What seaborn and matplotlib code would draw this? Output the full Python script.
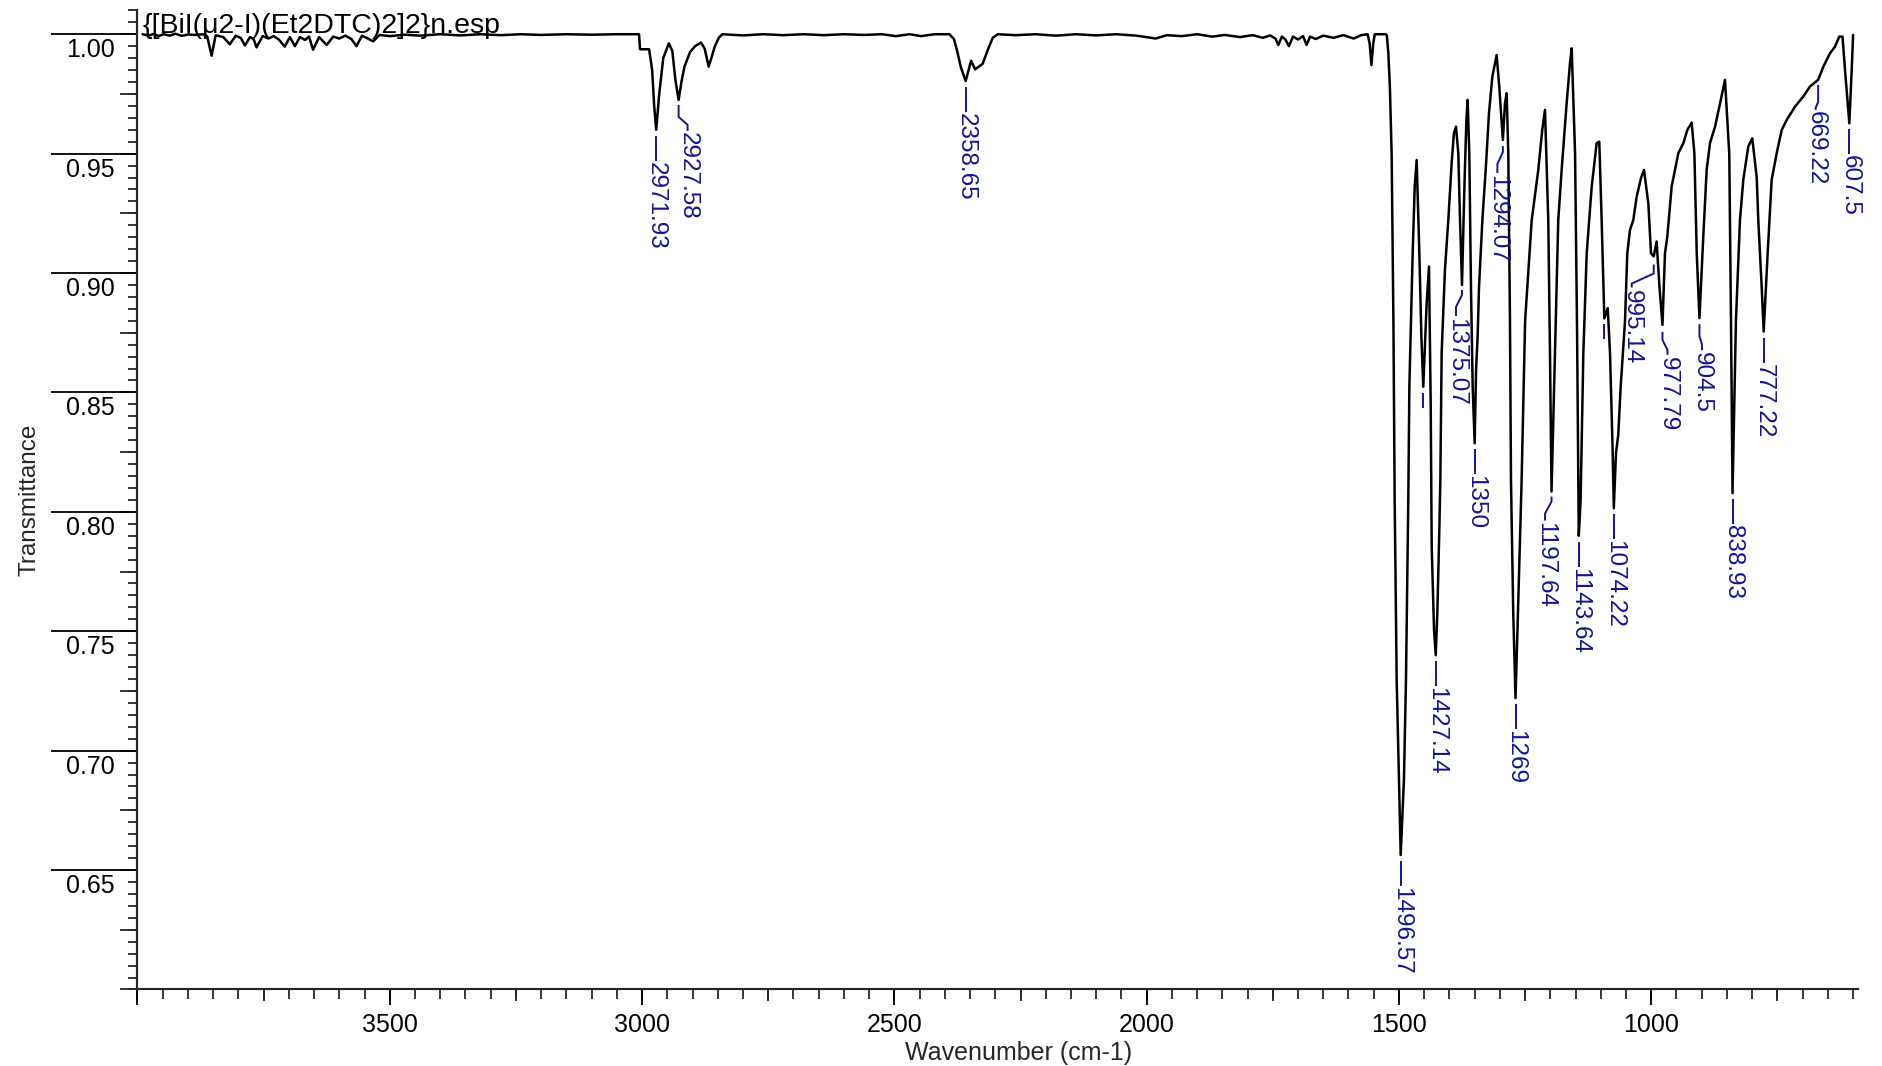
import numpy as np
import matplotlib
matplotlib.use("Agg")
import matplotlib.pyplot as plt
import seaborn as sns
from matplotlib.ticker import MultipleLocator, NullFormatter
from matplotlib.transforms import ScaledTranslation

# ---------------- spectrum trace (wavenumber in cm-1, transmittance) ----------------
wavenumber = [
    3990, 3978, 3968, 3958, 3948, 3936, 3925, 3912, 3900, 3885, 3870, 3862, 3853, 3845,
    3830, 3817, 3805, 3795, 3787, 3777, 3770, 3764, 3752, 3740, 3730, 3720, 3708, 3698,
    3688, 3678, 3668, 3660, 3652, 3640, 3625, 3612, 3600, 3588, 3576, 3566, 3555, 3545,
    3533, 3520, 3500, 3470, 3440, 3400, 3360, 3320, 3280, 3240, 3200, 3150, 3100, 3050,
    3006, 3004, 2986, 2980, 2976, 2971.93, 2966, 2958, 2947, 2940, 2934, 2927.58, 2922,
    2916, 2905, 2895, 2883, 2876, 2868, 2862, 2856, 2848, 2841, 2800, 2760, 2720, 2680,
    2640, 2600, 2560, 2525, 2497, 2470, 2447, 2420, 2391, 2382, 2376, 2368, 2358.65,
    2353, 2348, 2340, 2325, 2315, 2305, 2295, 2260, 2220, 2180, 2140, 2100, 2060, 2020,
    1982, 1960, 1930, 1900, 1870, 1845, 1815, 1790, 1770, 1755, 1745, 1739, 1732, 1725,
    1718, 1710, 1700, 1690, 1683, 1676, 1665, 1650, 1630, 1610, 1590, 1575, 1562, 1558,
    1554.6, 1551, 1548, 1526, 1524, 1521, 1518, 1514.5, 1511, 1508.5, 1504.5, 1499.9,
    1496.57, 1490.1, 1486.1, 1481.5, 1479.4, 1472.8, 1468.8, 1464.9, 1459.6, 1455.6,
    1451.8, 1445.1, 1440.5, 1437.1, 1435.1, 1430.5, 1427.14, 1424.0, 1420.0, 1418.0,
    1415.4, 1408.9, 1402.2, 1395.6, 1391.1, 1387.0, 1382.4, 1379.0, 1375.07, 1370.3,
    1366.4, 1363.9, 1360.6, 1357.3, 1353.9, 1350, 1347.2, 1344.1, 1341.3, 1334.7,
    1328.1, 1321.6, 1315.0, 1306.4, 1301.2, 1294.07, 1289.9, 1286.6, 1283.3, 1280.0,
    1278.0, 1273.5, 1269, 1264.2, 1256.9, 1250, 1237, 1224, 1216, 1210.6, 1204.1,
    1200.7, 1197.64, 1190.8, 1184.3, 1177.6, 1167.7, 1161, 1157.7, 1151.0, 1147.0,
    1143.64, 1140.0, 1134.6, 1127.9, 1118.0, 1108.2, 1103.0, 1098.3, 1093.0, 1086.3,
    1081.7, 1076.4, 1074.22, 1069.9, 1065.4, 1060.6, 1052.0, 1047.5, 1042.2, 1035.6,
    1028.9, 1020, 1014.4, 1005.8, 1000.5, 995.14, 989.4, 984, 977.79, 972.8, 968.2,
    959.6, 946.3, 936.4, 928.5, 919.9, 914.5, 909.9, 904.5, 896.9, 890.2, 883.6, 873.6,
    863.6, 853.9, 845.4, 842.0, 838.93, 832.2, 824.2, 817.6, 807.7, 799.8, 791, 787.9,
    781.2, 777.22, 769.3, 761.4, 751.4, 741.5, 731.6, 715.1, 698.7, 685.5, 669.22,
    659.0, 645.8, 635.9, 627.4, 621, 616, 607.5, 602.8, 600,
]
transmittance = [
    1.0000, 0.9994, 1.0001, 0.9992, 1.0000, 0.9994, 1.0002, 0.9993, 0.9999, 0.9997, 1.0000, 0.9992, 0.9910, 0.9996,
    0.9988, 0.9958, 0.9994, 0.9984, 0.9953, 0.9988, 0.9980, 0.9945, 0.9992, 0.9982, 0.9992, 0.9978, 0.9948, 0.9988,
    0.9950, 0.9988, 0.9976, 0.9990, 0.9935, 0.9988, 0.9955, 0.9990, 0.9982, 0.9994, 0.9980, 0.9950, 0.9994, 0.9984,
    0.9970, 0.9997, 0.9992, 0.9998, 0.9994, 1.0000, 0.9995, 1.0000, 0.9996, 1.0000, 0.9997, 1.0000, 0.9998, 1.0000,
    1.0000, 0.9937, 0.9937, 0.9850, 0.9700, 0.9600, 0.9750, 0.9900, 0.9962, 0.9930, 0.9810, 0.9725, 0.9800,
    0.9864, 0.9925, 0.9950, 0.9965, 0.9940, 0.9864, 0.9905, 0.9948, 0.9985, 1.0000, 0.9995, 1.0000, 0.9996, 1.0000,
    0.9996, 1.0000, 0.9997, 1.0000, 0.9992, 1.0000, 0.9992, 1.0000, 1.0000, 0.9980, 0.9934, 0.9860, 0.9804,
    0.9850, 0.9889, 0.9853, 0.9876, 0.9934, 0.9985, 1.0000, 0.9996, 1.0000, 0.9994, 1.0000, 0.9995, 1.0000, 0.9994,
    0.9982, 0.9996, 0.9992, 1.0000, 0.9990, 0.9997, 0.9988, 0.9996, 0.9985, 0.9995, 0.9982, 0.9955, 0.9990, 0.9978,
    0.9950, 0.9990, 0.9978, 0.9992, 0.9955, 0.9990, 0.9980, 0.9994, 0.9985, 0.9996, 0.9982, 0.9996, 1.0000, 0.9960,
    0.9871, 0.9960, 1.0000, 1.0000, 0.9995, 0.9920, 0.9780, 0.9500, 0.8800, 0.8050, 0.7296, 0.6880,
    0.6563, 0.6880, 0.7296, 0.8050, 0.8524, 0.9083, 0.9362, 0.9473, 0.9083, 0.8734,
    0.8524, 0.8874, 0.9027, 0.8450, 0.7854, 0.7506, 0.7400, 0.7575, 0.7924, 0.8133,
    0.8665, 0.9013, 0.9222, 0.9460, 0.9585, 0.9613, 0.9502, 0.9222, 0.8950, 0.9362,
    0.9641, 0.9725, 0.9500, 0.8943, 0.8524, 0.8287, 0.8594, 0.8734, 0.8943, 0.9222,
    0.9432, 0.9669, 0.9822, 0.9913, 0.9780, 0.9557, 0.9711, 0.9753, 0.9500, 0.8800,
    0.8133, 0.7575, 0.7220, 0.7575, 0.8133, 0.8800, 0.9220, 0.9430, 0.9600, 0.9683, 0.9222,
    0.8665, 0.8085, 0.8664, 0.9222, 0.9431, 0.9711, 0.9880, 0.9941, 0.9502, 0.8750,
    0.7900, 0.8050, 0.8665, 0.9084, 0.9362, 0.9544, 0.9550, 0.9222, 0.8810, 0.8853,
    0.8664, 0.8247, 0.8015, 0.8245, 0.8322, 0.8524, 0.8800, 0.9083, 0.9180, 0.9222,
    0.9320, 0.9400, 0.9432, 0.9292, 0.9083, 0.9069, 0.9132, 0.8950, 0.8783, 0.9083, 0.9152,
    0.9362, 0.9502, 0.9544, 0.9599, 0.9630, 0.9500, 0.9083, 0.8811, 0.9152, 0.9432, 0.9544, 0.9613,
    0.9711, 0.9809, 0.9500, 0.8800, 0.8078, 0.8800, 0.9222, 0.9390, 0.9530, 0.9564, 0.9400, 0.9222,
    0.8943, 0.8755, 0.9083, 0.9390, 0.9502, 0.9599, 0.9641, 0.9697, 0.9739, 0.9781, 0.9809,
    0.9864, 0.9920, 0.9948, 0.9990, 0.9990, 0.9850, 0.9627, 0.9850, 0.9997,
]

# ---------------- picked bands and their labels ----------------
peak_wavenumbers = [2971.93, 2927.58, 2358.65, 1496.57, 1427.14, 1375.07, 1350, 1294.07,
                    1269, 1197.64, 1143.64, 1074.22, 995.14, 977.79, 904.5, 838.93,
                    777.22, 669.22, 607.5]
peak_labels = ["2971.93", "2927.58", "2358.65", "1496.57", "1427.14", "1375.07", "1350",
               "1294.07", "1269", "1197.64", "1143.64", "1074.22", "995.14", "977.79",
               "904.5", "838.93", "777.22", "669.22", "607.5"]
# picked bands whose label text is suppressed (only the marker stroke is shown)
unlabelled_peaks = [1451.8, 1093.0]

# axis ticks
x_major_ticks = [4000, 3500, 3000, 2500, 2000, 1500, 1000]
x_major_labels = ["", "3500", "3000", "2500", "2000", "1500", "1000"]
y_major_ticks = [0.65, 0.70, 0.75, 0.80, 0.85, 0.90, 0.95, 1.00]
y_major_labels = ["0.65", "0.70", "0.75", "0.80", "0.85", "0.90", "0.95", "1.00"]

sample_name = "{[BiI(\u03bc2-I)(Et2DTC)2]2}n.esp"

# ---------------- styling ----------------
sns.set_theme(style="ticks")
plt.rcParams["font.family"] = ["Liberation Sans", "DejaVu Sans"]
plt.rcParams["axes.linewidth"] = 1.5

LABEL_BLUE = "#14148c"
TICK_FS = 18
PEAK_FS = 17.5

# leader geometry in pixels: (dx of text, start, bend start, bend end, stroke end, text top)
leader_geom = {
    "2927.58": (9, 5, 17, 25, 31, 32),
    "1375.07": (-6, 5, 10, 22, 31, 33),
    "1294.07": (-5.5, 6, 12, 24, 33, 35),
    "1197.64": (-6.5, 5, 10, 22, 29, 30),
    "995.14": (-22, 8, 17, 27, 31, 33),
    "977.79": (5, 7, 15, 25, 30, 32),
    "904.5": (2.5, 6, 18, 26, 32, 34),
    "669.22": (-2.5, 5, 22, 28, 30, 31),
}
default_geom = (0, 6, 6, 6, 31, 32)

fig = plt.figure(figsize=(18.83, 10.66), dpi=100)
ax = fig.add_axes([0.0730, 0.0718, 0.9138, 0.9185])

sns.lineplot(x=wavenumber, y=transmittance, sort=False, estimator=None,
             color="black", linewidth=1.8, ax=ax)

ax.set_xlim(4000, 590)
ax.set_ylim(0.60, 1.01)
for side in ("top", "right"):
    ax.spines[side].set_visible(False)

# x axis ticks: major every 500, minor every 50, medium every 250
ax.set_xticks(x_major_ticks, labels=x_major_labels)
ax.xaxis.set_minor_locator(MultipleLocator(50))
ax.tick_params(axis="x", which="major", length=11.5, width=1.3, pad=5.5,
               labelsize=TICK_FS, colors="black")
ax.tick_params(axis="x", which="minor", length=7, width=1.3)
sec_x = ax.secondary_xaxis("bottom")
sec_x.xaxis.set_major_locator(MultipleLocator(250))
sec_x.xaxis.set_major_formatter(NullFormatter())
sec_x.tick_params(length=8.8, width=1.3)

# y axis ticks: long major rules every 0.05, medium every 0.025, minor every 0.005
ax.set_yticks(y_major_ticks, labels=y_major_labels)
ax.yaxis.set_minor_locator(MultipleLocator(0.005))
ax.tick_params(axis="y", which="major", length=62, width=1.3, pad=-45.8,
               labelsize=TICK_FS, colors="black")
ax.tick_params(axis="y", which="minor", length=6.8, width=1.3)
sec_y = ax.secondary_yaxis("left")
sec_y.yaxis.set_major_locator(MultipleLocator(0.025))
sec_y.yaxis.set_major_formatter(NullFormatter())
sec_y.tick_params(length=12.5, width=1.3)

shift_down = ScaledTranslation(0, -16 / 100, fig.dpi_scale_trans)
for lab in ax.get_yticklabels():
    lab.set_verticalalignment("center")
    lab.set_transform(lab.get_transform() + shift_down)

ax.set_xlabel("Wavenumber (cm-1)", fontsize=TICK_FS, va="center")
ax.xaxis.set_label_coords(0.5123, -0.065)
ax.set_ylabel("Transmittance", fontsize=PEAK_FS, va="center")
ax.yaxis.set_label_coords(-0.0630, 0.5)

ax.text(0.0032, 0.9766, sample_name, transform=ax.transAxes, fontsize=20.5,
        va="baseline", ha="left", color="black", zorder=5)

# ---------------- peak labels ----------------
wn_sorted = np.array(wavenumber)[::-1]
t_sorted = np.array(transmittance)[::-1]


def offset_point(wn, t, dx_px, dy_px):
    px, py = ax.transData.transform((wn, t))
    return ax.transData.inverted().transform((px + dx_px, py - dy_px))


def draw_leader(wn, t, geom):
    dx, s, b0, b1, e, _ = geom
    pts = [(0, s), (0, b0), (dx, b1), (dx, e)]
    xy = np.array([offset_point(wn, t, px, py) for px, py in pts])
    ax.plot(xy[:, 0], xy[:, 1], color=LABEL_BLUE, lw=1.4, clip_on=False,
            solid_capstyle="butt", zorder=4)


for wn, text in zip(peak_wavenumbers, peak_labels):
    t = float(np.interp(wn, wn_sorted, t_sorted))
    geom = leader_geom.get(text, default_geom)
    draw_leader(wn, t, geom)
    ax.annotate(text, xy=(wn, t), xytext=(geom[0], -geom[5]),
                textcoords="offset pixels", rotation=270, ha="center", va="top",
                color=LABEL_BLUE, fontsize=PEAK_FS, zorder=4, annotation_clip=False)

for wn in unlabelled_peaks:
    t = float(np.interp(wn, wn_sorted, t_sorted))
    draw_leader(wn, t, (0, 6, 6, 6, 21, 22))

fig.savefig("out.png", dpi=100, facecolor="white")
